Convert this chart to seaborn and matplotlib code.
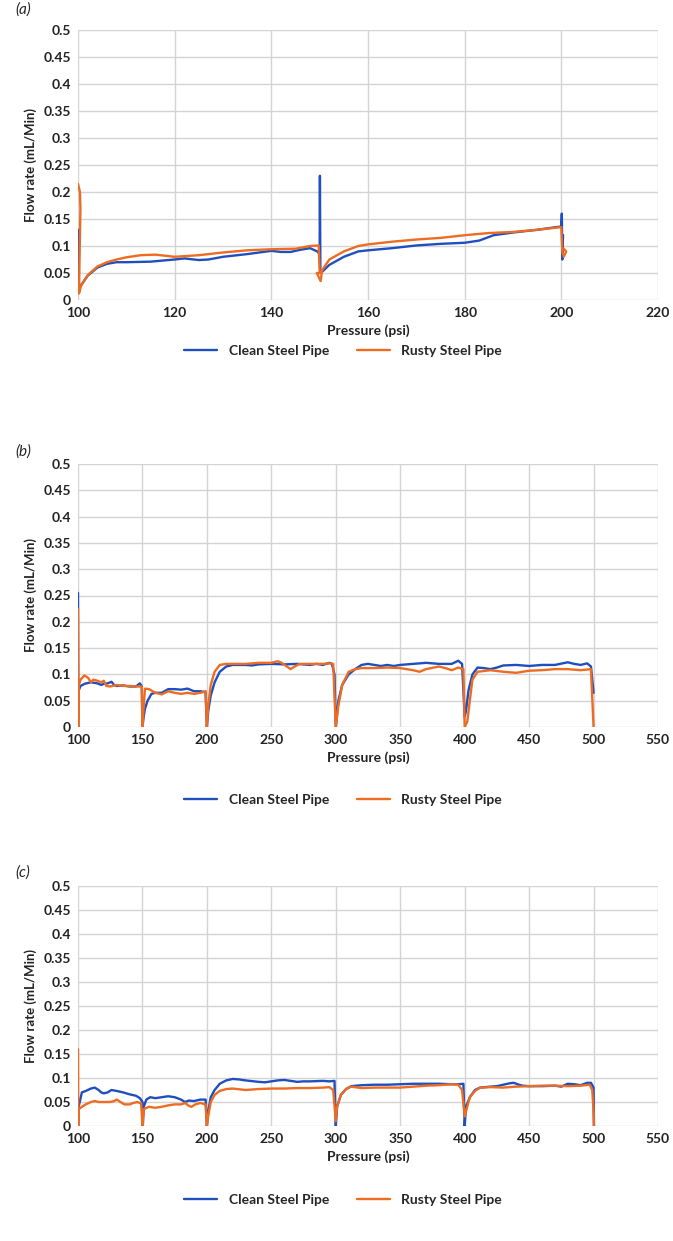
import matplotlib
matplotlib.use("Agg")
import matplotlib.pyplot as plt
import pandas as pd
import seaborn as sns

# ---- data ----
series_names = ["Clean Steel Pipe", "Rusty Steel Pipe"]

# panel (a)
a_clean_x = [100, 100.15, 100.35, 101, 102, 104, 106, 108, 110, 115, 120, 122, 125, 127, 130,
             135, 140, 142, 144, 146, 148, 149.5, 150, 150.05, 150.15, 150.3, 150.6, 152, 155,
             158, 160, 165, 170, 175, 180, 183, 186, 190, 195, 199, 200, 200.1, 200.2, 200.35]
a_clean_y = [0.13, 0.02, 0.025, 0.032, 0.045, 0.06, 0.067, 0.07, 0.07, 0.071, 0.075, 0.077,
             0.074, 0.075, 0.08, 0.085, 0.091, 0.089, 0.089, 0.093, 0.096, 0.09, 0.085, 0.23,
             0.05, 0.05, 0.053, 0.065, 0.08, 0.09, 0.092, 0.096, 0.101, 0.104, 0.106, 0.11,
             0.12, 0.125, 0.13, 0.135, 0.136, 0.16, 0.075, 0.12]
a_rusty_x = [100, 100.4, 100.5, 100.2, 100.6, 101, 102, 104, 106, 108, 110, 113, 116, 118, 120,
             125, 130, 135, 140, 145, 148, 149.8, 150, 149.4, 150.2, 150.5, 152, 155, 158, 160,
             165, 170, 175, 180, 185, 190, 195, 199, 200, 200.2, 200.5, 201, 200.5]
a_rusty_y = [0.215, 0.2, 0.17, 0.012, 0.025, 0.032, 0.046, 0.062, 0.07, 0.075, 0.079, 0.083,
             0.084, 0.082, 0.08, 0.083, 0.088, 0.092, 0.094, 0.095, 0.1, 0.101, 0.05, 0.05,
             0.035, 0.055, 0.075, 0.09, 0.1, 0.103, 0.108, 0.112, 0.115, 0.12, 0.124, 0.126,
             0.13, 0.134, 0.135, 0.09, 0.08, 0.09, 0.095]

# panel (b)
b_clean_x = [100, 100.3, 100.6, 102, 105, 110, 115, 118, 120, 123, 126, 128, 130, 135, 140, 145,
             148, 149.5, 150, 151, 152, 154, 157, 160, 165, 170, 175, 180, 185, 190, 195, 199,
             200, 201, 203, 206, 210, 215, 220, 230, 235, 240, 250, 260, 270, 280, 285, 290,
             295, 297, 299, 300, 302, 305, 310, 315, 320, 325, 330, 335, 340, 345, 350, 360,
             370, 380, 390, 395, 398, 400, 401, 403, 406, 410, 415, 420, 425, 430, 440, 450,
             460, 470, 480, 485, 490, 495, 498, 500]
b_clean_y = [0.255, 0.0, 0.07, 0.078, 0.082, 0.085, 0.083, 0.08, 0.082, 0.083, 0.086, 0.08,
             0.078, 0.079, 0.077, 0.077, 0.083, 0.077, 0.0, 0.02, 0.035, 0.05, 0.063, 0.065,
             0.065, 0.072, 0.072, 0.071, 0.073, 0.068, 0.068, 0.066, 0.0, 0.03, 0.06, 0.085,
             0.105, 0.115, 0.118, 0.118, 0.117, 0.119, 0.12, 0.119, 0.12, 0.118, 0.12, 0.118,
             0.122, 0.12, 0.1, 0.0, 0.05, 0.08, 0.1, 0.11, 0.118, 0.12, 0.118, 0.116, 0.118,
             0.116, 0.118, 0.12, 0.122, 0.12, 0.12, 0.126, 0.12, 0.02, 0.03, 0.07, 0.1, 0.113,
             0.112, 0.11, 0.113, 0.117, 0.118, 0.116, 0.118, 0.118, 0.123, 0.12, 0.118, 0.121,
             0.115, 0.065]
b_rusty_x = [100, 100.3, 100.7, 102, 105, 108, 110, 112, 115, 118, 120, 122, 125, 130, 135, 140,
             145, 149.5, 150, 151, 152, 155, 158, 160, 165, 170, 175, 180, 185, 190, 195, 199,
             200, 201, 203, 206, 210, 215, 230, 240, 250, 255, 258, 262, 265, 268, 272, 280,
             290, 295, 298, 300, 302, 305, 310, 315, 320, 330, 340, 350, 360, 365, 370, 380,
             385, 390, 395, 399, 400, 402, 404, 406, 410, 420, 430, 440, 450, 460, 470, 480,
             490, 498, 500]
b_rusty_y = [0.225, 0.0, 0.08, 0.09, 0.098, 0.093, 0.085, 0.09, 0.088, 0.085, 0.088, 0.078,
             0.077, 0.08, 0.078, 0.078, 0.077, 0.077, 0.0, 0.04, 0.073, 0.072, 0.068, 0.065,
             0.062, 0.068, 0.065, 0.063, 0.065, 0.063, 0.065, 0.068, 0.0, 0.04, 0.08, 0.105,
             0.118, 0.12, 0.12, 0.122, 0.122, 0.125, 0.122, 0.115, 0.11, 0.115, 0.12, 0.12,
             0.12, 0.121, 0.12, 0.0, 0.04, 0.08, 0.105, 0.11, 0.112, 0.112, 0.113, 0.112,
             0.108, 0.105, 0.11, 0.115, 0.112, 0.108, 0.113, 0.11, 0.0, 0.01, 0.05, 0.09,
             0.105, 0.108, 0.105, 0.103, 0.107, 0.108, 0.11, 0.11, 0.108, 0.11, 0.0]

# panel (c)
c_clean_x = [100, 100.5, 103, 106, 110, 113, 116, 118, 120, 123, 126, 130, 135, 140, 145, 148,
             150, 150.3, 151, 153, 156, 160, 165, 170, 175, 180, 183, 186, 190, 195, 199, 200,
             201, 203, 206, 210, 215, 220, 225, 230, 240, 245, 250, 255, 260, 265, 270, 275,
             280, 290, 295, 299, 300, 301, 304, 308, 312, 320, 330, 340, 350, 360, 370, 380,
             390, 395, 399, 400, 401, 404, 408, 412, 420, 425, 430, 435, 438, 442, 445, 450,
             460, 470, 475, 480, 485, 490, 495, 498, 500, 500.3]
c_clean_y = [0.0, 0.04, 0.07, 0.073, 0.078, 0.08, 0.075, 0.07, 0.068, 0.07, 0.075, 0.073, 0.07,
             0.066, 0.063, 0.058, 0.05, 0.0, 0.04, 0.055, 0.06, 0.058, 0.06, 0.062, 0.06, 0.055,
             0.05, 0.053, 0.052, 0.055, 0.055, 0.0, 0.03, 0.06, 0.075, 0.088, 0.095, 0.098,
             0.097, 0.095, 0.092, 0.091, 0.093, 0.095, 0.096, 0.094, 0.092, 0.093, 0.093, 0.094,
             0.093, 0.094, 0.0, 0.04, 0.065, 0.077, 0.083, 0.085, 0.086, 0.086, 0.087, 0.088,
             0.088, 0.088, 0.087, 0.087, 0.088, 0.0, 0.04, 0.06, 0.075, 0.08, 0.082, 0.083,
             0.086, 0.089, 0.09, 0.086, 0.084, 0.083, 0.083, 0.084, 0.082, 0.088, 0.087, 0.085,
             0.09, 0.09, 0.08, 0.0]
c_rusty_x = [100, 100.2, 100.5, 103, 106, 110, 113, 116, 120, 125, 128, 130, 133, 136, 140, 143,
             146, 149, 150, 151, 155, 160, 165, 170, 175, 180, 183, 186, 188, 191, 195, 199,
             200, 201, 203, 206, 210, 215, 220, 230, 240, 250, 260, 270, 280, 290, 295, 298,
             300, 301, 304, 308, 312, 320, 330, 340, 350, 360, 370, 380, 390, 395, 398, 400,
             401, 404, 408, 412, 420, 430, 440, 450, 460, 470, 480, 490, 497, 499, 500, 500.3]
c_rusty_y = [0.16, 0.0, 0.035, 0.04, 0.045, 0.05, 0.052, 0.05, 0.05, 0.05, 0.052, 0.055, 0.05,
             0.045, 0.045, 0.048, 0.05, 0.047, 0.0, 0.035, 0.04, 0.038, 0.04, 0.043, 0.045,
             0.045, 0.048, 0.042, 0.04, 0.045, 0.048, 0.045, 0.0, 0.02, 0.05, 0.065, 0.073,
             0.077, 0.078, 0.075, 0.077, 0.078, 0.078, 0.079, 0.079, 0.08, 0.081, 0.075, 0.01,
             0.04, 0.065, 0.077, 0.082, 0.079, 0.08, 0.08, 0.08, 0.082, 0.084, 0.085, 0.087,
             0.086, 0.075, 0.02, 0.03, 0.06, 0.073, 0.08, 0.081, 0.08, 0.082, 0.083, 0.084,
             0.084, 0.083, 0.084, 0.086, 0.075, 0.03, 0.0]

y_ticks = [0, 0.05, 0.1, 0.15, 0.2, 0.25, 0.3, 0.35, 0.4, 0.45, 0.5]
y_tick_labels = ["0", "0.05", "0.1", "0.15", "0.2", "0.25", "0.3", "0.35", "0.4", "0.45", "0.5"]
a_x_ticks = [100, 120, 140, 160, 180, 200, 220]
bc_x_ticks = [100, 150, 200, 250, 300, 350, 400, 450, 500, 550]

panels = [
    ("(a)", a_clean_x, a_clean_y, a_rusty_x, a_rusty_y, a_x_ticks),
    ("(b)", b_clean_x, b_clean_y, b_rusty_x, b_rusty_y, bc_x_ticks),
    ("(c)", c_clean_x, c_clean_y, c_rusty_x, c_rusty_y, bc_x_ticks),
]

# ---- style ----
sns.set_theme(style="whitegrid")
plt.rcParams['font.family'] = ['Lato', 'DejaVu Sans']
plt.rcParams['font.weight'] = 'bold'
palette = {"Clean Steel Pipe": "#1f4fbf", "Rusty Steel Pipe": "#ee6b22"}

W, H = 673, 1241
fig = plt.figure(figsize=(W / 100, H / 100), dpi=100)

# axes boxes in pixels: (top, bottom); label and legend rows
boxes = [(30, 300, 10, 351), (464, 727, 452, 800), (886, 1126, 873, 1200)]
left, right = 78, 658

for (tag, cx, cy, rx, ry, xt), (top, bot, tag_y, leg_y) in zip(panels, boxes):
    ax = fig.add_axes([left / W, 1 - bot / H, (right - left) / W, (bot - top) / H])
    df = pd.concat([
        pd.DataFrame({"Pressure": cx, "Flow": cy, "Pipe": series_names[0]}),
        pd.DataFrame({"Pressure": rx, "Flow": ry, "Pipe": series_names[1]}),
    ])
    sns.lineplot(data=df, x="Pressure", y="Flow", hue="Pipe", palette=palette,
                 sort=False, estimator=None, linewidth=1.7, ax=ax)
    ax.set_xlim(xt[0], xt[-1])
    ax.set_ylim(0, 0.5)
    ax.set_xticks(xt)
    ax.set_xticklabels([str(v) for v in xt])
    ax.set_yticks(y_ticks)
    ax.set_yticklabels(y_tick_labels)
    ax.tick_params(length=0, labelsize=10, pad=5, labelcolor="#222222")
    for lab in ax.get_xticklabels() + ax.get_yticklabels():
        lab.set_fontweight('bold')
    ax.grid(True, color="#d4d4d4", linewidth=1.0)
    for s in ax.spines.values():
        s.set_visible(False)
    ax.set_xlabel("Pressure (psi)", fontsize=10, fontweight='bold', labelpad=4,
                  color="#222222")
    ax.set_ylabel("Flow rate (mL/Min)", fontsize=9.5, fontweight='bold', labelpad=5,
                  color="#222222")
    handles, labels = ax.get_legend_handles_labels()
    ax.legend(handles, labels, loc="center", ncol=2, frameon=False,
              bbox_to_anchor=(343 / W, 1 - leg_y / H), bbox_transform=fig.transFigure,
              handlelength=2.4, columnspacing=2.0, prop={'weight': 'bold', 'size': 10})
    fig.text(15 / W, 1 - tag_y / H, tag, fontsize=11, fontstyle='italic',
             fontweight='normal', ha='left', va='center')

fig.savefig("out.png", dpi=100)
